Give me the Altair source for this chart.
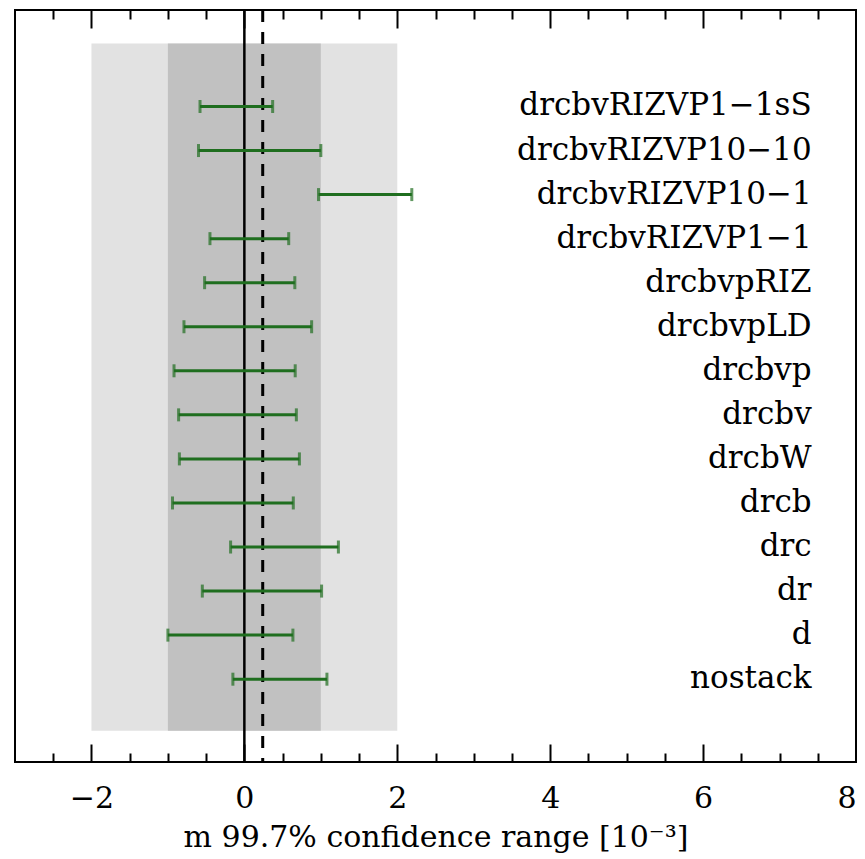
import altair as alt
import pandas as pd

# ---- data ----
labels = [
    "drcbvRIZVP1−1sS", "drcbvRIZVP10−10", "drcbvRIZVP10−1", "drcbvRIZVP1−1",
    "drcbvpRIZ", "drcbvpLD", "drcbvp", "drcbv", "drcbW", "drcb",
    "drc", "dr", "d", "nostack",
]
lo = [-0.58, -0.60, 0.97, -0.45, -0.52, -0.79, -0.92, -0.86, -0.85, -0.94,
      -0.18, -0.55, -1.00, -0.15]
hi = [0.37, 1.00, 2.19, 0.58, 0.66, 0.88, 0.665, 0.68, 0.72, 0.64,
      1.23, 1.01, 0.635, 1.08]

outer_band = [-2, 2]
inner_band = [-1, 1]
band_y = [0.83, 16.43]
ref_solid = 0.0
ref_dashed = 0.24
major_ticks = [-2, 0, 2, 4, 6, 8]
minor_ticks = [-2.5, -1.5, -1, -0.5, 0.5, 1, 1.5, 2.5, 3, 3.5, 4.5, 5, 5.5, 6.5, 7, 7.5]
x_title = "m 99.7% confidence range [10⁻³]"

n = len(labels)
df = pd.DataFrame({"label": labels, "lo": lo, "hi": hi,
                   "row": [n + 1 - i for i in range(n)]})
bands_outer = pd.DataFrame({"x": [outer_band[0]], "x2": [outer_band[1]],
                            "y": [band_y[0]], "y2": [band_y[1]]})
bands_inner = pd.DataFrame({"x": [inner_band[0]], "x2": [inner_band[1]],
                            "y": [band_y[0]], "y2": [band_y[1]]})
solid = pd.DataFrame({"v": [ref_solid]})
dashed = pd.DataFrame({"v": [ref_dashed]})

FONT = "DejaVu Serif"
GREEN = "#1f6e1f"

xs = alt.Scale(domain=[-3, 8], nice=False, zero=False)
ys = alt.Scale(domain=[0.12, 17.19], nice=False, zero=False)

ax_bottom_major = alt.Axis(orient="bottom", values=major_ticks, tickSize=18, offset=-18,
                           domain=False, grid=False, tickWidth=2, tickColor="black",
                           labelFont=FONT, labelFontSize=30, labelColor="black",
                           labelPadding=21, labelFlush=True,
                           title=x_title, titleFont=FONT, titleFontSize=30,
                           titleFontWeight="normal", titleColor="black", titlePadding=9)
ax_bottom_minor = alt.Axis(orient="bottom", values=minor_ticks, tickSize=9, offset=-9,
                           domain=False, grid=False, tickWidth=2, tickColor="black",
                           labels=False, title=None)
ax_top_major = alt.Axis(orient="top", values=major_ticks, tickSize=18, offset=-18,
                        domain=False, grid=False, tickWidth=2, tickColor="black",
                        labels=False, title=None)
ax_top_minor = alt.Axis(orient="top", values=minor_ticks, tickSize=9, offset=-9,
                        domain=False, grid=False, tickWidth=2, tickColor="black",
                        labels=False, title=None)

outer = alt.Chart(bands_outer).mark_rect(color="#e2e2e2").encode(
    x=alt.X("x:Q", scale=xs, axis=ax_bottom_major), x2="x2:Q",
    y=alt.Y("y:Q", scale=ys, axis=None), y2="y2:Q")
inner = alt.Chart(bands_inner).mark_rect(color="#c1c1c1").encode(
    x=alt.X("x:Q", scale=xs, axis=ax_bottom_minor), x2="x2:Q",
    y=alt.Y("y:Q", scale=ys, axis=None), y2="y2:Q")
solid_line = alt.Chart(solid).mark_rule(color="black", strokeWidth=2.5).encode(
    x=alt.X("v:Q", scale=xs, axis=ax_top_major))
dashed_line = alt.Chart(dashed).mark_rule(color="black", strokeWidth=3,
                                          strokeDash=[12, 10]).encode(
    x=alt.X("v:Q", scale=xs, axis=ax_top_minor))

bars = alt.Chart(df).mark_rule(color=GREEN, strokeWidth=3).encode(
    x=alt.X("lo:Q", scale=xs, axis=None), x2="hi:Q",
    y=alt.Y("row:Q", scale=ys, axis=None))
caps_lo = alt.Chart(df).mark_tick(color=GREEN, orient="vertical", size=13,
                                  thickness=3).encode(
    x=alt.X("lo:Q", scale=xs, axis=None), y=alt.Y("row:Q", scale=ys, axis=None))
caps_hi = alt.Chart(df).mark_tick(color=GREEN, orient="vertical", size=13,
                                  thickness=3).encode(
    x=alt.X("hi:Q", scale=xs, axis=None), y=alt.Y("row:Q", scale=ys, axis=None))
texts = alt.Chart(df).mark_text(align="right", baseline="middle", font=FONT,
                                fontSize=31, color="black").encode(
    x=alt.XDatum(7.42, scale=xs, axis=None),
    y=alt.Y("row:Q", scale=ys, axis=None),
    text="label:N")

chart = alt.layer(outer, inner, solid_line, dashed_line, bars, caps_lo, caps_hi, texts
).resolve_axis(x="independent").properties(
    width=841, height=752,
    autosize=alt.AutoSizeParams(type="none"),
    padding={"left": 7, "top": 2, "right": 1, "bottom": 93},
    background="white",
).configure_view(stroke="black", strokeWidth=2)

chart.save("out.html", embed_options={"renderer": "svg", "actions": False})
